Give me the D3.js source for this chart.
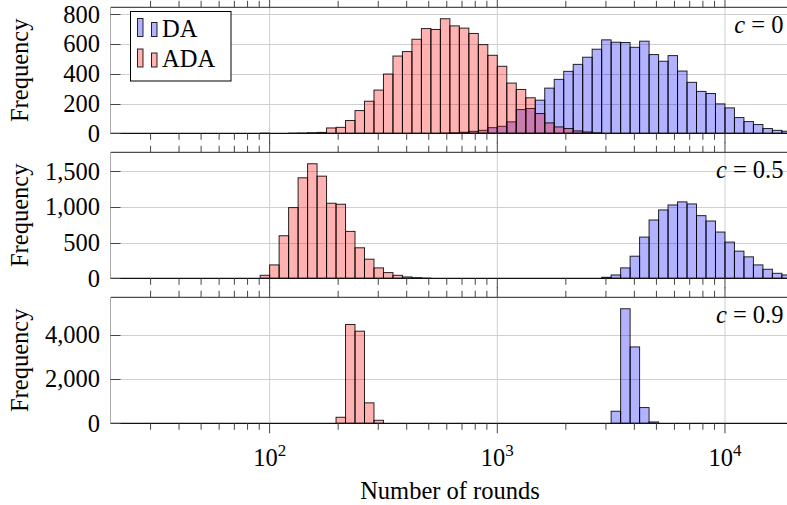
<!DOCTYPE html>
<html>
<head>
<meta charset="utf-8">
<script src="https://cdn.jsdelivr.net/npm/d3@7"></script>
<style>
  html, body { margin: 0; padding: 0; background: #fff; }
  svg { display: block; font-family: "Liberation Serif", "Times New Roman", serif; }
</style>
</head>
<body>
<svg id="chart" width="787" height="505"></svg>
<script>
// ---- data ----
// histogram bins are logarithmic: bin j spans [10^(j/24), 10^((j+1)/24)]
const binsPerDecade = 24;
const xDomain = [20, 20000];
const xTickMajor = [100, 1000, 10000];
const xTickExp = ["2", "3", "4"];
const cLabels = ["0", "0.5", "0.9"];
const seriesNames = ["DA", "ADA"];

// c = 0
const daFirstC0 = 66;
const daC0 = [1, 3, 7, 13, 20, 38, 47, 77, 160, 167, 223, 304, 363, 417, 464, 512, 566, 629, 613, 611,
              579, 620, 530, 485, 523, 419, 343, 282, 268, 198, 171, 106, 79, 59, 32, 20, 14, 8];
const adaFirstC0 = 47;
const adaC0 = [1, 0, 0, 1, 2, 4, 6, 36, 40, 86, 153, 216, 291, 399, 520, 550, 633, 705, 699, 771,
               723, 708, 672, 597, 525, 451, 338, 295, 239, 133, 70, 43, 32, 16, 9, 3];
// c = 0.5
const daFirstC05 = 83;
const daC05 = [14, 47, 146, 310, 578, 818, 959, 1029, 1072, 1043, 879, 804, 649, 508, 381, 301, 188, 127, 70, 47, 30];
const adaFirstC05 = 47;
const adaC05 = [42, 188, 597, 992, 1410, 1607, 1433, 1053, 1039, 658, 428, 268, 146, 80, 42, 19, 9, 3];
// c = 0.9
const daFirstC09 = 84;
const daC09 = [545, 5181, 3454, 712, 61];
const adaFirstC09 = 55;
const adaC09 = [273, 4470, 4166, 924, 136];

const yTicksC0 = [0, 200, 400, 600, 800];
const yTicksC05 = [0, 500, 1000, 1500];
const yTicksC09 = [0, 2000, 4000];

// ---- layout ----
const panels = [
  { c: cLabels[0], da: daC0, daFirst: daFirstC0, ada: adaC0, adaFirst: adaFirstC0, ticks: yTicksC0 },
  { c: cLabels[1], da: daC05, daFirst: daFirstC05, ada: adaC05, adaFirst: adaFirstC05, ticks: yTicksC05 },
  { c: cLabels[2], da: daC09, daFirst: daFirstC09, ada: adaC09, adaFirst: adaFirstC09, ticks: yTicksC09 }
];
const panelTops = [7.3, 152.3, 297.3];
const panelH = 126;
const left = 110.5, right = 793.5;
const FS = 24.5;

const svg = d3.select("#chart");
const x = d3.scaleLog().domain(xDomain).range([left, right]);

const minorTicks = [];
[10, 100, 1000, 10000].forEach(d => { for (let k = 2; k <= 9; k++) { const v = d * k; if (v > 20 && v < 20000) minorTicks.push(v); } });

svg.append("defs").append("clipPath").attr("id", "clipAll")
  .append("rect").attr("x", left).attr("y", 0).attr("width", right - left).attr("height", 505);

function bins(first, counts) {
  return counts.map((v, i) => ({
    lo: Math.pow(10, (first + i) / binsPerDecade),
    hi: Math.pow(10, (first + i + 1) / binsPerDecade),
    v
  }));
}

panels.forEach((p, pi) => {
  const top = panelTops[pi];
  const bottom = top + panelH;
  const ymax = 1.1 * d3.max([...p.da, ...p.ada]);
  const y = d3.scaleLinear().domain([0, ymax]).range([bottom, top]);
  const g = svg.append("g");
  const cid = "clip" + pi;
  svg.select("defs").append("clipPath").attr("id", cid)
    .append("rect").attr("x", left).attr("y", top).attr("width", right - left).attr("height", panelH);

  // grid
  const grid = g.append("g").attr("clip-path", `url(#${cid})`);
  grid.selectAll("line.hg").data(p.ticks.slice(1)).enter().append("line")
    .attr("x1", left).attr("x2", right)
    .attr("y1", d => Math.round(y(d)) + 0.5).attr("y2", d => Math.round(y(d)) + 0.5)
    .attr("stroke", "#cfcfcf").attr("stroke-width", 1);
  grid.selectAll("line.vg").data(xTickMajor).enter().append("line")
    .attr("x1", d => x(d)).attr("x2", d => x(d))
    .attr("y1", top).attr("y2", bottom)
    .attr("stroke", "#cfcfcf").attr("stroke-width", 1);

  // bars
  const barsG = g.append("g").attr("clip-path", `url(#${cid})`);
  const drawSeries = (data, color) => {
    barsG.append("g").selectAll("rect").data(data).enter().append("rect")
      .attr("x", d => x(d.lo)).attr("width", d => x(d.hi) - x(d.lo))
      .attr("y", d => y(d.v)).attr("height", d => y(0) - y(d.v))
      .attr("fill", color).attr("fill-opacity", 0.3)
      .attr("stroke", "#000").attr("stroke-opacity", 0.85).attr("stroke-width", 1);
  };
  drawSeries(bins(p.daFirst, p.da), "rgb(0,0,255)");
  drawSeries(bins(p.adaFirst, p.ada), "rgb(255,0,0)");

  // frame
  const fr = g.append("g").attr("clip-path", "url(#clipAll)");
  fr.append("line").attr("x1", left).attr("x2", right).attr("y1", top).attr("y2", top).attr("stroke", "#222");
  fr.append("line").attr("x1", left).attr("x2", right).attr("y1", bottom).attr("y2", bottom).attr("stroke", "#111").attr("stroke-width", 1.2);
  fr.append("line").attr("x1", left).attr("x2", left).attr("y1", top).attr("y2", bottom).attr("stroke", "#555");
  fr.append("line").attr("x1", right).attr("x2", right).attr("y1", top).attr("y2", bottom).attr("stroke", "#555");

  // x ticks (outside, top and bottom)
  const tk = fr.append("g").attr("stroke", "#444").attr("stroke-width", 1);
  minorTicks.forEach(v => {
    tk.append("line").attr("x1", x(v)).attr("x2", x(v)).attr("y1", top).attr("y2", top - 6.5);
    tk.append("line").attr("x1", x(v)).attr("x2", x(v)).attr("y1", bottom).attr("y2", bottom + 6.5);
  });
  xTickMajor.forEach(v => {
    tk.append("line").attr("x1", x(v)).attr("x2", x(v)).attr("y1", top).attr("y2", top - 10);
    tk.append("line").attr("x1", x(v)).attr("x2", x(v)).attr("y1", bottom).attr("y2", bottom + 10);
  });

  // y ticks (inside) + labels
  p.ticks.forEach(t => {
    const yy = Math.round(y(t)) + 0.5;
    g.append("line").attr("x1", left).attr("x2", left + 10).attr("y1", yy).attr("y2", yy)
      .attr("stroke", "#444");
    g.append("text").attr("x", 100).attr("y", y(t)).attr("dy", "0.34em")
      .attr("text-anchor", "end").attr("font-size", FS).attr("fill", "#000")
      .text(d3.format(",")(t));
  });

  // y label
  g.append("text")
    .attr("transform", `translate(28,${top + panelH / 2}) rotate(-90)`)
    .attr("text-anchor", "middle").attr("font-size", FS).attr("fill", "#000")
    .text("Frequency");

  // c label
  const cl = g.append("text").attr("x", 783.5).attr("y", top + 26)
    .attr("text-anchor", "end").attr("font-size", FS).attr("fill", "#000");
  cl.append("tspan").attr("font-style", "italic").text("c");
  cl.append("tspan").text(" = " + p.c);

  // x tick labels on bottom panel
  if (pi === panels.length - 1) {
    xTickMajor.forEach((v, i) => {
      const t = g.append("text").attr("x", x(v)).attr("y", bottom + 43)
        .attr("text-anchor", "middle").attr("font-size", FS).attr("fill", "#000");
      t.append("tspan").text("10");
      t.append("tspan").attr("font-size", 17).attr("dy", -10).text(xTickExp[i]);
    });
    g.append("text").attr("x", (left + right) / 2 - 2).attr("y", 499)
      .attr("text-anchor", "middle").attr("font-size", FS).attr("fill", "#000")
      .text("Number of rounds");
  }
});

// legend
const lg = svg.append("g");
lg.append("rect").attr("x", 130.5).attr("y", 11.5).attr("width", 100.5).attr("height", 69.5)
  .attr("fill", "#fff").attr("stroke", "#000").attr("stroke-width", 1);
const legendColors = ["rgb(0,0,255)", "rgb(255,0,0)"];
seriesNames.forEach((name, i) => {
  const base = 36.5 + i * 30.5;
  const e = lg.append("g");
  [[137.5, 18], [151.5, 14]].forEach(([bx, h]) => {
    e.append("rect").attr("x", bx).attr("y", base - h).attr("width", 5.5).attr("height", h)
      .attr("fill", "#fff");
    e.append("rect").attr("x", bx).attr("y", base - h).attr("width", 5.5).attr("height", h)
      .attr("fill", legendColors[i]).attr("fill-opacity", 0.3)
      .attr("stroke", "#000").attr("stroke-opacity", 0.85).attr("stroke-width", 1);
  });
  e.append("text").attr("x", 162).attr("y", base).attr("font-size", FS).attr("fill", "#000").text(name);
});
</script>
</body>
</html>
